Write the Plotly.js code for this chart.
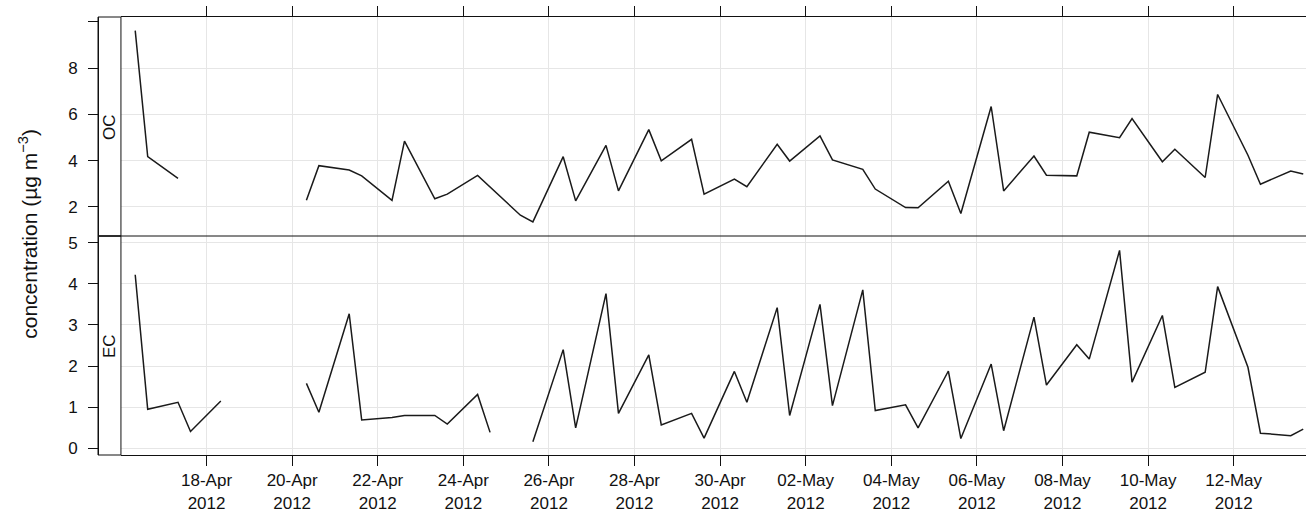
<!DOCTYPE html>
<html>
<head>
<meta charset="utf-8">
<script src="https://cdn.plot.ly/plotly-3.0.1.min.js"></script>
<style>
  html, body { margin:0; padding:0; background:#fff; overflow:hidden; }
  #chart { width:1306px; height:512px; }
</style>
</head>
<body>
<div id="chart"></div>
<script>
// sampling times: two filters per day (08:00 and 15:00)
const sampleTimes = [
  '2012-04-16 08:00','2012-04-16 15:00','2012-04-17 08:00','2012-04-17 15:00',
  '2012-04-18 08:00','2012-04-18 15:00','2012-04-19 08:00','2012-04-19 15:00',
  '2012-04-20 08:00','2012-04-20 15:00','2012-04-21 08:00','2012-04-21 15:00',
  '2012-04-22 08:00','2012-04-22 15:00','2012-04-23 08:00','2012-04-23 15:00',
  '2012-04-24 08:00','2012-04-24 15:00','2012-04-25 08:00','2012-04-25 15:00',
  '2012-04-26 08:00','2012-04-26 15:00','2012-04-27 08:00','2012-04-27 15:00',
  '2012-04-28 08:00','2012-04-28 15:00','2012-04-29 08:00','2012-04-29 15:00',
  '2012-04-30 08:00','2012-04-30 15:00','2012-05-01 08:00','2012-05-01 15:00',
  '2012-05-02 08:00','2012-05-02 15:00','2012-05-03 08:00','2012-05-03 15:00',
  '2012-05-04 08:00','2012-05-04 15:00','2012-05-05 08:00','2012-05-05 15:00',
  '2012-05-06 08:00','2012-05-06 15:00','2012-05-07 08:00','2012-05-07 15:00',
  '2012-05-08 08:00','2012-05-08 15:00','2012-05-09 08:00','2012-05-09 15:00',
  '2012-05-10 08:00','2012-05-10 15:00','2012-05-11 08:00','2012-05-11 15:00',
  '2012-05-12 08:00','2012-05-12 15:00','2012-05-13 08:00','2012-05-13 15:00'
];

const ocValues = [
  9.62, 4.17, 3.23, null, null, null, null, null,
  2.29, 3.78, 3.59, 3.34, 2.28, 4.84, 2.35, 2.55,
  3.36, 2.85, 1.64, 1.35, 4.17, 2.26, 4.66, 2.69,
  5.34, 3.99, 4.92, 2.55, 3.20, 2.87, 4.71, 3.98,
  5.07, 4.03, 3.62, 2.77, 1.97, 1.96, 3.11, 1.71,
  6.34, 2.69, 4.20, 3.37, 3.34, 5.23, 4.99, 5.82,
  3.95, 4.49, 3.27, 6.86, 4.23, 2.98, 3.55, 3.42
];

const ecValues = [
  4.22, 0.95, 1.12, 0.41, 1.15, null, null, null,
  1.58, 0.88, 3.27, 0.69, 0.75, 0.80, 0.80, 0.59,
  1.31, 0.39, null, 0.16, 2.40, 0.50, 3.76, 0.85,
  2.27, 0.57, 0.85, 0.25, 1.87, 1.12, 3.42, 0.80,
  3.50, 1.04, 3.85, 0.92, 1.06, 0.50, 1.88, 0.24,
  2.05, 0.43, 3.19, 1.54, 2.52, 2.17, 4.81, 1.61,
  3.23, 1.48, 1.85, 3.93, 1.97, 0.37, 0.31, 0.47
];

const dateTicks = ['2012-04-18','2012-04-20','2012-04-22','2012-04-24','2012-04-26','2012-04-28',
  '2012-04-30','2012-05-02','2012-05-04','2012-05-06','2012-05-08','2012-05-10','2012-05-12'];
const dateLabels = ['18-Apr','20-Apr','22-Apr','24-Apr','26-Apr','28-Apr',
  '30-Apr','02-May','04-May','06-May','08-May','10-May','12-May'].map(d => d + '<br>2012');

const ocTicks = [2, 4, 6, 8];
const ecTicks = [0, 1, 2, 3, 4, 5];
const panelNames = ['OC', 'EC'];

const FONT = 'Liberation Sans, Arial, sans-serif';
const INK = '#111';
const GRID = '#e6e6e6';
const STRIP_X = 0.019;

const lineStyle = {color:'#1a1a1a', width:1.5};

const traces = [
  {x:sampleTimes, y:ecValues, xaxis:'x', yaxis:'y', type:'scatter', mode:'lines',
   line:lineStyle, connectgaps:false, hoverinfo:'x+y', name:'EC'},
  {x:sampleTimes, y:ocValues, xaxis:'x2', yaxis:'y2', type:'scatter', mode:'lines',
   line:lineStyle, connectgaps:false, hoverinfo:'x+y', name:'OC'},
];

const xBase = {
  type:'date', domain:[STRIP_X, 1], range:['2012-04-16 00:00','2012-05-13 16:33'],
  tickmode:'array', tickvals:dateTicks, ticks:'outside', ticklen:10, tickwidth:1, tickcolor:INK,
  showgrid:true, gridcolor:GRID, gridwidth:1, zeroline:false,
  showline:true, linecolor:INK, linewidth:1, fixedrange:true,
};
const yBase = {
  anchor:'free', position:0, ticks:'outside', ticklen:10, tickwidth:1, tickcolor:INK,
  showgrid:true, gridcolor:GRID, gridwidth:1, zeroline:false,
  showline:true, linecolor:INK, linewidth:1, ticklabelstandoff:7,
  tickfont:{family:FONT, size:17, color:INK}, fixedrange:true,
};

const layout = {
  width:1306, height:512,
  margin:{l:98, r:0, t:17, b:57},
  paper_bgcolor:'#fff', plot_bgcolor:'#fff',
  showlegend:false,
  font:{family:FONT, size:17, color:INK},
  xaxis:{...xBase, anchor:'y', ticktext:dateLabels, ticklabelstandoff:0,
    tickfont:{family:FONT, size:17, color:INK}},
  xaxis2:{...xBase, anchor:'y2', matches:'x', side:'top', showticklabels:false},
  yaxis:{...yBase, domain:[0, 0.5], range:[-0.16, 5.16], tickmode:'array', tickvals:ecTicks},
  yaxis2:{...yBase, domain:[0.5, 1], range:[0.74, 10.21], tickmode:'array', tickvals:ocTicks,
    minor:{tickmode:'array', tickvals:[10], ticks:'outside', ticklen:10, tickcolor:INK, showgrid:false}},
  shapes:[
    {type:'rect', xref:'paper', yref:'paper', x0:0, x1:STRIP_X, y0:0.5, y1:1,
     line:{color:INK, width:1}, fillcolor:'rgba(0,0,0,0)', layer:'above'},
    {type:'rect', xref:'paper', yref:'paper', x0:0, x1:STRIP_X, y0:0, y1:0.5,
     line:{color:INK, width:1}, fillcolor:'rgba(0,0,0,0)', layer:'above'},
    {type:'line', xref:'paper', yref:'paper', x0:0, x1:1, y0:0.5, y1:0.5,
     line:{color:INK, width:1}, layer:'above'},
  ],
  annotations:[
    {text:panelNames[0], xref:'paper', yref:'paper', x:STRIP_X/2, y:0.75, showarrow:false,
     textangle:-90, xanchor:'center', yanchor:'middle', font:{family:FONT, size:17, color:INK}},
    {text:panelNames[1], xref:'paper', yref:'paper', x:STRIP_X/2, y:0.25, showarrow:false,
     textangle:-90, xanchor:'center', yanchor:'middle', font:{family:FONT, size:17, color:INK}},
    {text:'concentration (µg m<sup>−3</sup>)', xref:'paper', yref:'paper', x:-0.058, y:0.505,
     showarrow:false, textangle:-90, xanchor:'center', yanchor:'middle',
     font:{family:FONT, size:21, color:INK}},
  ],
};

Plotly.newPlot('chart', traces, layout, {displayModeBar:false, staticPlot:true});
</script>
</body>
</html>
